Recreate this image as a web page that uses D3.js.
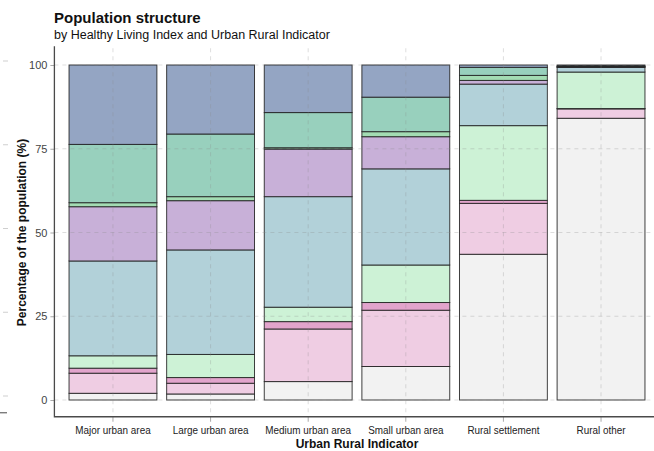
<!DOCTYPE html>
<html>
<head>
<meta charset="utf-8">
<script src="https://cdn.jsdelivr.net/npm/d3@7"></script>
<style>
  body { margin: 0; background: #fff; }
  svg { display: block; font-family: "Liberation Sans", Arial, sans-serif; }
</style>
</head>
<body>
<svg id="chart" width="654" height="451"></svg>
<script>
// categories on the x axis
var areas = ["Major urban area", "Large urban area", "Medium urban area",
             "Small urban area", "Rural settlement", "Rural other"];

// Healthy Living Index groups, stacked bottom to top
var groups = ["g1", "g2", "g3", "g4", "g5", "g6", "g7", "g8", "g9"];
var groupColours = ["#f2f2f2", "#efcde3", "#e2a4cc", "#cdf2d6", "#b2d1d9",
                    "#c8b0d8", "#a3dcb3", "#98d0bd", "#94a5c3"];

// share of population (%) per group, one array per area
var majorUrban  = [2.0, 6.0, 1.5, 3.7, 28.3, 16.2, 1.2, 17.4, 23.7];
var largeUrban  = [1.8, 3.2, 1.7, 6.9, 31.2, 14.7, 1.2, 18.7, 20.6];
var mediumUrban = [5.5, 15.7, 2.2, 4.3, 33.0, 14.2, 0.4, 10.5, 14.2];
var smallUrban  = [10.0, 16.8, 2.3, 11.2, 28.7, 9.6, 1.5, 10.3, 9.6];
var ruralSettle = [43.5, 15.2, 0.9, 22.3, 12.4, 1.1, 1.5, 2.4, 0.7];
var ruralOther  = [84.1, 2.8, 0.1, 10.9, 1.4, 0.1, 0.1, 0.2, 0.3];

var yTicks = [0, 25, 50, 75, 100];

var allValues = [majorUrban, largeUrban, mediumUrban, smallUrban, ruralSettle, ruralOther];
var data = areas.map(function (a, i) {
    var row = { area: a };
    groups.forEach(function (g, j) { row[g] = allValues[i][j]; });
    return row;
});

var svg = d3.select("#chart");

// panel is wider than the picture, the right edge is cut off like the original
var x = d3.scaleBand().domain(areas).range([54.4, 659.6])
    .paddingInner(0.1).paddingOuter(0.15);
var y = d3.scaleLinear().domain([0, 100]).range([400, 65]);

var panelTop = y(105), panelBottom = y(-5), panelLeft = 54.4;

var colour = d3.scaleOrdinal().domain(groups).range(groupColours);

// stray marks at the far left edge
var ghost = svg.append("g").attr("class", "ghost");
ghost.selectAll("line.gt")
    .data(yTicks)
    .enter().append("line")
    .attr("class", "gt")
    .attr("x1", 3).attr("x2", 8)
    .attr("y1", function (d) { return y(d) - 4; })
    .attr("y2", function (d) { return y(d) - 4; })
    .attr("stroke", "#cfcfcf");
ghost.append("line")
    .attr("x1", 0).attr("x2", 7)
    .attr("y1", panelBottom - 4).attr("y2", panelBottom - 4)
    .attr("stroke", "#666").attr("stroke-width", 1.2);

// bars
var stack = d3.stack().keys(groups);
var series = stack(data);

svg.append("g").selectAll("g")
    .data(series)
    .enter().append("g")
    .attr("fill", function (d) { return colour(d.key); })
    .selectAll("rect")
    .data(function (d) { return d; })
    .enter().append("rect")
    .attr("x", function (d) { return x(d.data.area); })
    .attr("width", x.bandwidth())
    .attr("y", function (d) { return y(d[1]); })
    .attr("height", function (d) { return y(d[0]) - y(d[1]); })
    .attr("stroke", "#1e1e1e")
    .attr("stroke-width", 1)
    .attr("stroke-opacity", 0.85);

// dashed grid on top, faint
var grid = svg.append("g").attr("class", "grid")
    .attr("stroke", "#8a8a8a").attr("stroke-opacity", 0.28)
    .attr("stroke-dasharray", "4,4");
grid.selectAll("line.h")
    .data(yTicks)
    .enter().append("line")
    .attr("class", "h")
    .attr("x1", panelLeft).attr("x2", 654)
    .attr("y1", function (d) { return y(d); })
    .attr("y2", function (d) { return y(d); });
grid.selectAll("line.v")
    .data(areas)
    .enter().append("line")
    .attr("class", "v")
    .attr("x1", function (d) { return x(d) + x.bandwidth() / 2; })
    .attr("x2", function (d) { return x(d) + x.bandwidth() / 2; })
    .attr("y1", panelTop).attr("y2", panelBottom);

// y axis
var yAxis = svg.append("g")
    .attr("transform", "translate(" + panelLeft + ",0)")
    .call(d3.axisLeft(y).tickValues(yTicks).tickSize(4).tickPadding(3));
yAxis.select(".domain").remove();
yAxis.selectAll(".tick line").attr("stroke", "#aaa");
yAxis.selectAll(".tick text")
    .attr("fill", "#444")
    .style("font-size", "11px")
    .style("font-family", "Liberation Sans, Arial, sans-serif");

// x axis
var xAxis = svg.append("g")
    .attr("transform", "translate(0," + panelBottom + ")")
    .call(d3.axisBottom(x).tickSize(5).tickPadding(4));
xAxis.select(".domain").remove();
xAxis.selectAll(".tick line").attr("stroke", "#aaa");
xAxis.selectAll(".tick text")
    .attr("fill", "#222")
    .attr("transform", "scale(0.9,1)")
    .style("font-size", "11px")
    .style("font-family", "Liberation Sans, Arial, sans-serif");

// L shaped axis lines
svg.append("path")
    .attr("d", "M" + panelLeft + "," + (panelTop - 2) + "V" + panelBottom + "H654")
    .attr("fill", "none")
    .attr("stroke", "#4a4a4a")
    .attr("stroke-width", 1.3);

// titles
svg.append("text")
    .attr("x", 54).attr("y", 23)
    .style("font-size", "15px").style("font-weight", "bold")
    .attr("fill", "#111")
    .text("Population structure");

svg.append("text")
    .attr("x", 54).attr("y", 39)
    .style("font-size", "12.5px")
    .attr("fill", "#111")
    .text("by Healthy Living Index and Urban Rural Indicator");

svg.append("text")
    .attr("transform", "translate(26," + ((panelTop + panelBottom) / 2) + ") rotate(-90)")
    .attr("text-anchor", "middle")
    .style("font-size", "12px").style("font-weight", "bold")
    .attr("fill", "#111")
    .text("Percentage of the population (%)");

svg.append("text")
    .attr("x", (54.4 + 659.6) / 2).attr("y", 448)
    .attr("text-anchor", "middle")
    .style("font-size", "12px").style("font-weight", "bold")
    .attr("fill", "#111")
    .text("Urban Rural Indicator");
</script>
</body>
</html>
